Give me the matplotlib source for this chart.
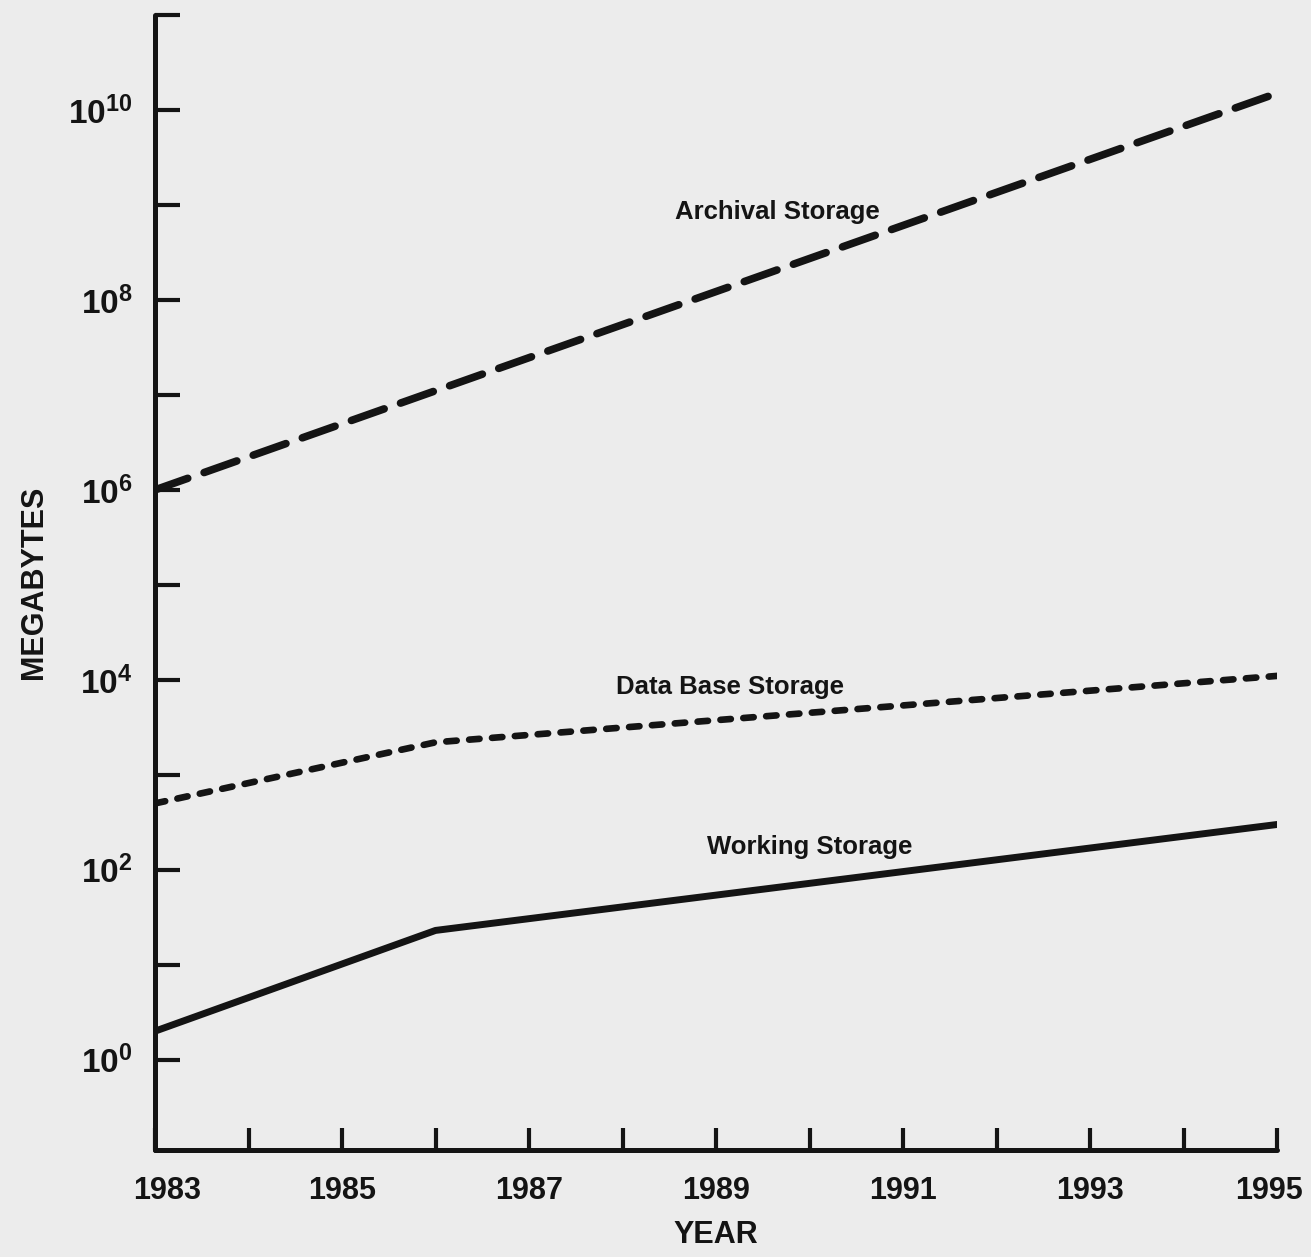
import matplotlib
matplotlib.use('Agg')
import matplotlib.pyplot as plt
from matplotlib import transforms
import numpy as np

plt.rcParams['font.family'] = ['Liberation Sans', 'DejaVu Sans']
plt.rcParams['font.weight'] = 'bold'
plt.rcParams['mathtext.fontset'] = 'custom'
plt.rcParams['mathtext.rm'] = 'Liberation Sans:bold'
plt.rcParams['mathtext.bf'] = 'Liberation Sans:bold'
plt.rcParams['lines.scale_dashes'] = False

# values (megabytes)
years = [1983, 1986, 1995]
database = [500, 2200, 11000]
working = [2.0, 23, 300]

archival_years = [1983, 1995]
archival = [1.0e6, 1.5e10]

ink = '#141414'
paper = '#ececec'

fig = plt.figure(figsize=(13.11, 12.57), dpi=100, facecolor=paper)
ax = fig.add_axes([155/1311, 107/1257, 1122/1311, 1135/1257])
ax.set_facecolor(paper)

# long dashes - archival
ax.plot(archival_years, archival, color=ink, lw=5.5,
        dashes=(25, 12.5), dash_capstyle='round')
# short dashes - data base
ax.plot(years, database, color=ink, lw=4.8,
        dashes=(7.5, 9.0), dash_capstyle='round')
# solid - working
ax.plot(years, working, color=ink, lw=5.0, solid_capstyle='round',
        solid_joinstyle='round')

ax.set_yscale('log')
ax.set_xlim(1983, 1995)
ax.set_ylim(10**-0.95, 1e11)

ax.spines['top'].set_visible(False)
ax.spines['right'].set_visible(False)
for s in ['left', 'bottom']:
    ax.spines[s].set_linewidth(3.6)
    ax.spines[s].set_color(ink)
    ax.spines[s].set_capstyle('round')

yrs = list(range(1983, 1996))
ax.set_xticks(yrs)
ax.set_xticklabels([str(y) if (y - 1983) % 2 == 0 else '' for y in yrs])
decades = list(range(0, 12))
ax.set_yticks([10.0**k for k in decades])
ax.set_yticklabels([r'$\mathbf{10^{%d}}$' % k if k % 2 == 0 else '' for k in decades])
ax.yaxis.set_minor_locator(matplotlib.ticker.NullLocator())

ax.tick_params(axis='x', direction='in', length=16, width=3, color=ink,
               labelsize=22, pad=19, labelcolor=ink)
ax.tick_params(axis='y', direction='in', length=18, width=3, color=ink,
               labelsize=24, pad=16, labelcolor=ink)

# first and last year labels sit a little inward
labs = ax.get_xticklabels()
labs[0].set_transform(labs[0].get_transform() + transforms.ScaledTranslation(0.12, 0, fig.dpi_scale_trans))
labs[-1].set_transform(labs[-1].get_transform() + transforms.ScaledTranslation(-0.08, 0, fig.dpi_scale_trans))

ax.set_xlabel('YEAR', fontsize=22, fontweight='bold', color=ink, labelpad=10)
ax.set_ylabel('MEGABYTES', fontsize=22, fontweight='bold', color=ink, labelpad=14)

ax.text(1989.66, 10**8.93, 'Archival Storage', fontsize=18.5, fontweight='bold',
        color=ink, ha='center', va='center')
ax.text(1989.15, 10**3.92, 'Data Base Storage', fontsize=18.5, fontweight='bold',
        color=ink, ha='center', va='center')
ax.text(1990.0, 10**2.24, 'Working Storage', fontsize=18.5, fontweight='bold',
        color=ink, ha='center', va='center')

fig.savefig('out.png', dpi=100, facecolor=paper)
